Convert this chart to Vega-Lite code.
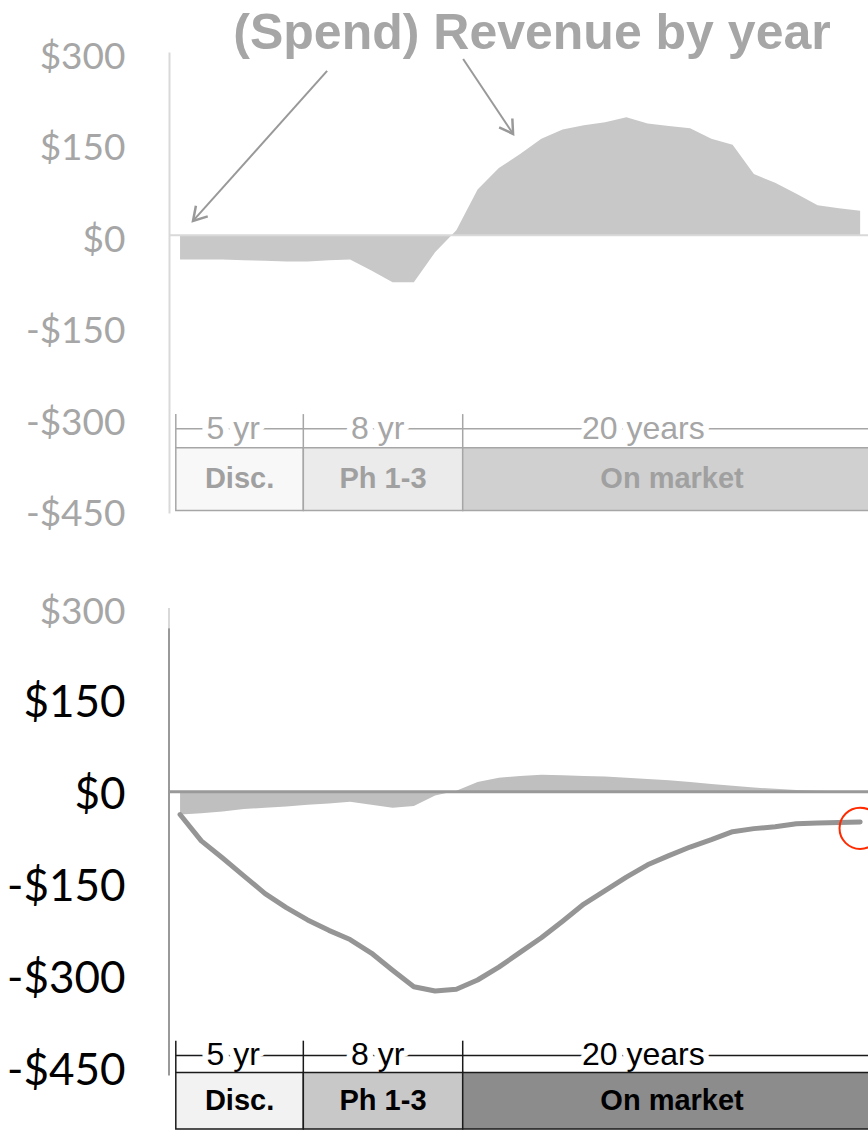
{
  "$schema": "https://vega.github.io/schema/vega-lite/v6.json",
  "background": "white",
  "padding": {"left": 6, "top": 8, "right": 0, "bottom": 0},
  "spacing": 95,
  "bounds": "flush",
  "config": {"view": {"stroke": null}, "text": {"font": "Liberation Sans"}},
  "resolve": {"scale": {"x": "independent", "y": "independent"}},
  "datasets": {
    "years": [
      {"year": 0, "revenue": -40, "pv": -37, "cum": -37},
      {"year": 1, "revenue": -40, "pv": -35, "cum": -80},
      {"year": 2, "revenue": -40, "pv": -32, "cum": -108},
      {"year": 3, "revenue": -41, "pv": -28, "cum": -137},
      {"year": 4, "revenue": -42, "pv": -26, "cum": -166},
      {"year": 5, "revenue": -43, "pv": -24, "cum": -189},
      {"year": 6, "revenue": -43, "pv": -21, "cum": -209},
      {"year": 7, "revenue": -41, "pv": -19, "cum": -226},
      {"year": 8, "revenue": -40, "pv": -16, "cum": -241},
      {"year": 9, "revenue": -58, "pv": -21, "cum": -263},
      {"year": 10, "revenue": -77, "pv": -26, "cum": -291},
      {"year": 11, "revenue": -77, "pv": -23, "cum": -318},
      {"year": 12, "revenue": -28, "pv": -6, "cum": -325},
      {"year": 13, "revenue": 8, "pv": 2, "cum": -322},
      {"year": 14, "revenue": 75, "pv": 16, "cum": -307},
      {"year": 15, "revenue": 110, "pv": 23, "cum": -286},
      {"year": 16, "revenue": 133, "pv": 26, "cum": -262},
      {"year": 17, "revenue": 158, "pv": 28, "cum": -238},
      {"year": 18, "revenue": 173, "pv": 27, "cum": -211},
      {"year": 19, "revenue": 180, "pv": 26, "cum": -183},
      {"year": 20, "revenue": 185, "pv": 25, "cum": -161},
      {"year": 21, "revenue": 193, "pv": 23, "cum": -139},
      {"year": 22, "revenue": 183, "pv": 21, "cum": -119},
      {"year": 23, "revenue": 179, "pv": 19, "cum": -104},
      {"year": 24, "revenue": 175, "pv": 16, "cum": -90},
      {"year": 25, "revenue": 158, "pv": 13, "cum": -78},
      {"year": 26, "revenue": 148, "pv": 10, "cum": -65},
      {"year": 27, "revenue": 100, "pv": 7, "cum": -60},
      {"year": 28, "revenue": 86, "pv": 5, "cum": -57},
      {"year": 29, "revenue": 68, "pv": 3, "cum": -52},
      {"year": 30, "revenue": 49, "pv": 2, "cum": -51},
      {"year": 31, "revenue": 44, "pv": 1, "cum": -50},
      {"year": 32, "revenue": 40, "pv": 0, "cum": -49}
    ],
    "phases": [
      {"phase": "Disc.", "start": -0.2, "end": 5.8},
      {"phase": "Ph 1-3", "start": 5.8, "end": 13.3},
      {"phase": "On market", "start": 13.3, "end": 33}
    ]
  },
  "vconcat": [
    {
      "width": 699,
      "height": 461,
      "layer": [
        {
          "data": {"name": "years"},
          "mark": {"type": "area", "color": "#c8c8c8", "opacity": 1},
          "encoding": {
            "x": {"field": "year", "type": "quantitative", "scale": {"domain": [-0.52, 32.37], "nice": false, "zero": false}, "axis": null, "title": null},
            "y": {"field": "revenue", "type": "quantitative", "scale": {"domain": [-455, 300], "nice": false}, "title": null,
              "axis": {"values": [300, 150, 0, -150, -300, -450], "labelExpr": "datum.value < 0 ? '-$' + abs(datum.value) : '$' + datum.value",
                "labelFont": "Lato", "labelFontSize": 37, "labelColor": "#a6a6a6", "ticks": false, "grid": false, "domain": true,
                "domainColor": "#d9d9d9", "domainWidth": 2, "labelPadding": 44, "labelOffset": 5, "title": null,
                "labelBound": false, "labelOverlap": false, "labelFlush": false}}
          }
        },
        {
          "data": {"values": [{}]},
          "mark": {"type": "rule", "color": "#d9d9d9", "strokeWidth": 2},
          "encoding": {"y": {"datum": 0}}
        },
        {
          "data": {"values": [{}]},
          "mark": {"type": "rule", "color": "#a6a6a6", "strokeWidth": 1.5},
          "encoding": {"x": {"datum": -0.2, "axis": null}, "x2": {"datum": 33}, "y": {"datum": -317}}
        },
        {"data": {"values": [{}]}, "mark": {"type": "text", "fontSize": 32, "fill": "white", "stroke": "white", "strokeWidth": 12, "strokeJoin": "round", "baseline": "middle"}, "encoding": {"x": {"datum": 2.5, "axis": null}, "y": {"datum": -317}, "text": {"value": "5 yr"}}},
        {"data": {"values": [{}]}, "mark": {"type": "text", "fontSize": 32, "fill": "white", "stroke": "white", "strokeWidth": 12, "strokeJoin": "round", "baseline": "middle"}, "encoding": {"x": {"datum": 9.3, "axis": null}, "y": {"datum": -317}, "text": {"value": "8 yr"}}},
        {"data": {"values": [{}]}, "mark": {"type": "text", "fontSize": 32, "fill": "white", "stroke": "white", "strokeWidth": 12, "strokeJoin": "round", "baseline": "middle"}, "encoding": {"x": {"datum": 21.8, "axis": null}, "y": {"datum": -317}, "text": {"value": "20 years"}}},
        {"data": {"values": [{}]}, "mark": {"type": "text", "fontSize": 32, "fill": "#a6a6a6", "baseline": "middle"}, "encoding": {"x": {"datum": 2.5, "axis": null}, "y": {"datum": -317}, "text": {"value": "5 yr"}}},
        {"data": {"values": [{}]}, "mark": {"type": "text", "fontSize": 32, "fill": "#a6a6a6", "baseline": "middle"}, "encoding": {"x": {"datum": 9.3, "axis": null}, "y": {"datum": -317}, "text": {"value": "8 yr"}}},
        {"data": {"values": [{}]}, "mark": {"type": "text", "fontSize": 32, "fill": "#a6a6a6", "baseline": "middle"}, "encoding": {"x": {"datum": 21.8, "axis": null}, "y": {"datum": -317}, "text": {"value": "20 years"}}},
        {
          "data": {"name": "phases"},
          "mark": {"type": "rect", "stroke": "#a6a6a6", "strokeWidth": 1.5},
          "encoding": {
            "x": {"field": "start", "type": "quantitative", "axis": null, "title": null},
            "x2": {"field": "end"},
            "y": {"datum": -348},
            "y2": {"datum": -451},
            "fill": {"condition": [{"test": "datum.phase === 'Disc.'", "value": "#f8f8f8"}, {"test": "datum.phase === 'Ph 1-3'", "value": "#ebebeb"}], "value": "#d0d0d0"}
          }
        },
        {
          "data": {"name": "phases"},
          "mark": {"type": "rule", "color": "#a6a6a6", "strokeWidth": 1.5},
          "encoding": {
            "x": {"field": "start", "type": "quantitative", "axis": null, "title": null},
            "y": {"datum": -293},
            "y2": {"datum": -348}
          }
        },
        {
          "data": {"name": "phases"},
          "transform": [{"calculate": "(datum.start + datum.end) / 2", "as": "mid"}],
          "mark": {"type": "text", "font": "Liberation Sans", "fontWeight": "bold", "fontSize": 29, "color": "#a0a0a0", "baseline": "middle", "align": "center"},
          "encoding": {
            "x": {"field": "mid", "type": "quantitative", "axis": null, "title": null},
            "y": {"datum": -400},
            "text": {"field": "phase"}
          }
        },
        {"data": {"values": [{}]}, "mark": {"type": "rule", "color": "#999999", "strokeWidth": 2}, "encoding": {"x": {"datum": 6.92, "axis": null}, "y": {"datum": 269}, "x2": {"datum": 0.61}, "y2": {"datum": 23.4}}},
        {"data": {"values": [{}]}, "mark": {"type": "rule", "color": "#999999", "strokeWidth": 2}, "encoding": {"x": {"datum": 13.32, "axis": null}, "y": {"datum": 288.5}, "x2": {"datum": 15.67}, "y2": {"datum": 165.8}}},
        {"data": {"values": [{}]}, "mark": {"type": "point", "shape": "M -1 -0.6 L 0 0 L -1 0.6", "filled": false, "stroke": "#999999", "strokeWidth": 2.5, "size": 700, "angle": 131.8, "opacity": 1}, "encoding": {"x": {"datum": 0.61, "axis": null}, "y": {"datum": 23.4}}},
        {"data": {"values": [{}]}, "mark": {"type": "point", "shape": "M -1 -0.6 L 0 0 L -1 0.6", "filled": false, "stroke": "#999999", "strokeWidth": 2.5, "size": 700, "angle": 56.3, "opacity": 1}, "encoding": {"x": {"datum": 15.67, "axis": null}, "y": {"datum": 165.8}}},
        {"data": {"values": [{}]}, "mark": {"type": "text", "font": "Liberation Sans", "fontWeight": "bold", "fontSize": 50, "fill": "#a6a6a6", "baseline": "middle", "align": "center"}, "encoding": {"x": {"datum": 16.56, "axis": null}, "y": {"datum": 329.5}, "text": {"value": "(Spend) Revenue by year"}}}
      ]
    },
    {
      "width": 699,
      "height": 524,
      "layer": [
        {
          "data": {"name": "years"},
          "mark": {"type": "area", "color": "#bfbfbf", "opacity": 1},
          "encoding": {
            "x": {"field": "year", "type": "quantitative", "scale": {"domain": [-0.52, 32.37], "nice": false, "zero": false}, "axis": null, "title": null},
            "y": {"field": "pv", "type": "quantitative", "scale": {"domain": [-555, 300], "nice": false}, "title": null,
              "axis": {"values": [300, 150, 0, -150, -300, -450], "labelExpr": "datum.value < 0 ? '-$' + abs(datum.value) : '$' + datum.value",
                "labelFont": "Lato",
                "labelFontSize": {"condition": {"test": "datum.value === 300", "value": 37}, "value": 44},
                "labelColor": {"condition": {"test": "datum.value === 300", "value": "#a6a6a6"}, "value": "#000000"},
                "ticks": false, "grid": false, "domain": false, "labelPadding": 44, "labelOffset": 4, "title": null,
                "labelBound": false, "labelOverlap": false, "labelFlush": false}}
          }
        },
        {"data": {"values": [{}]}, "mark": {"type": "rule", "color": "#d9d9d9", "strokeWidth": 2}, "encoding": {"x": {"datum": -0.52, "axis": null}, "y": {"datum": 300}, "y2": {"datum": 267}}},
        {"data": {"values": [{}]}, "mark": {"type": "rule", "color": "#999999", "strokeWidth": 2}, "encoding": {"x": {"datum": -0.52, "axis": null}, "y": {"datum": 267}, "y2": {"datum": -463}}},
        {"data": {"values": [{}]}, "mark": {"type": "rule", "color": "#999999", "strokeWidth": 3}, "encoding": {"y": {"datum": 0}}},
        {
          "data": {"name": "years"},
          "mark": {"type": "line", "color": "#959595", "strokeWidth": 5, "strokeCap": "round", "strokeJoin": "round"},
          "encoding": {
            "x": {"field": "year", "type": "quantitative", "axis": null, "title": null},
            "y": {"field": "cum", "type": "quantitative", "title": null}
          }
        },
        {"data": {"values": [{}]}, "mark": {"type": "point", "shape": "circle", "filled": false, "stroke": "#ff2a00", "strokeWidth": 2, "size": 1700, "opacity": 1}, "encoding": {"x": {"datum": 32, "axis": null}, "y": {"datum": -59.5}}},
        {"data": {"values": [{}]}, "mark": {"type": "rule", "color": "#1a1a1a", "strokeWidth": 1.5}, "encoding": {"x": {"datum": -0.2, "axis": null}, "x2": {"datum": 33}, "y": {"datum": -430}}},
        {"data": {"values": [{}]}, "mark": {"type": "text", "fontSize": 32, "fill": "white", "stroke": "white", "strokeWidth": 12, "strokeJoin": "round", "baseline": "middle"}, "encoding": {"x": {"datum": 2.5, "axis": null}, "y": {"datum": -430}, "text": {"value": "5 yr"}}},
        {"data": {"values": [{}]}, "mark": {"type": "text", "fontSize": 32, "fill": "white", "stroke": "white", "strokeWidth": 12, "strokeJoin": "round", "baseline": "middle"}, "encoding": {"x": {"datum": 9.3, "axis": null}, "y": {"datum": -430}, "text": {"value": "8 yr"}}},
        {"data": {"values": [{}]}, "mark": {"type": "text", "fontSize": 32, "fill": "white", "stroke": "white", "strokeWidth": 12, "strokeJoin": "round", "baseline": "middle"}, "encoding": {"x": {"datum": 21.8, "axis": null}, "y": {"datum": -430}, "text": {"value": "20 years"}}},
        {"data": {"values": [{}]}, "mark": {"type": "text", "fontSize": 32, "fill": "#000000", "baseline": "middle"}, "encoding": {"x": {"datum": 2.5, "axis": null}, "y": {"datum": -430}, "text": {"value": "5 yr"}}},
        {"data": {"values": [{}]}, "mark": {"type": "text", "fontSize": 32, "fill": "#000000", "baseline": "middle"}, "encoding": {"x": {"datum": 9.3, "axis": null}, "y": {"datum": -430}, "text": {"value": "8 yr"}}},
        {"data": {"values": [{}]}, "mark": {"type": "text", "fontSize": 32, "fill": "#000000", "baseline": "middle"}, "encoding": {"x": {"datum": 21.8, "axis": null}, "y": {"datum": -430}, "text": {"value": "20 years"}}},
        {
          "data": {"name": "phases"},
          "mark": {"type": "rect", "stroke": "#1a1a1a", "strokeWidth": 1.5},
          "encoding": {
            "x": {"field": "start", "type": "quantitative", "axis": null, "title": null},
            "x2": {"field": "end"},
            "y": {"datum": -458},
            "y2": {"datum": -550},
            "fill": {"condition": [{"test": "datum.phase === 'Disc.'", "value": "#f2f2f2"}, {"test": "datum.phase === 'Ph 1-3'", "value": "#c8c8c8"}], "value": "#8c8c8c"}
          }
        },
        {
          "data": {"name": "phases"},
          "mark": {"type": "rule", "color": "#1a1a1a", "strokeWidth": 1.5},
          "encoding": {
            "x": {"field": "start", "type": "quantitative", "axis": null, "title": null},
            "y": {"datum": -406},
            "y2": {"datum": -458}
          }
        },
        {
          "data": {"name": "phases"},
          "transform": [{"calculate": "(datum.start + datum.end) / 2", "as": "mid"}],
          "mark": {"type": "text", "font": "Liberation Sans", "fontWeight": "bold", "fontSize": 29, "color": "#000000", "baseline": "middle", "align": "center"},
          "encoding": {
            "x": {"field": "mid", "type": "quantitative", "axis": null, "title": null},
            "y": {"datum": -504},
            "text": {"field": "phase"}
          }
        }
      ]
    }
  ]
}
